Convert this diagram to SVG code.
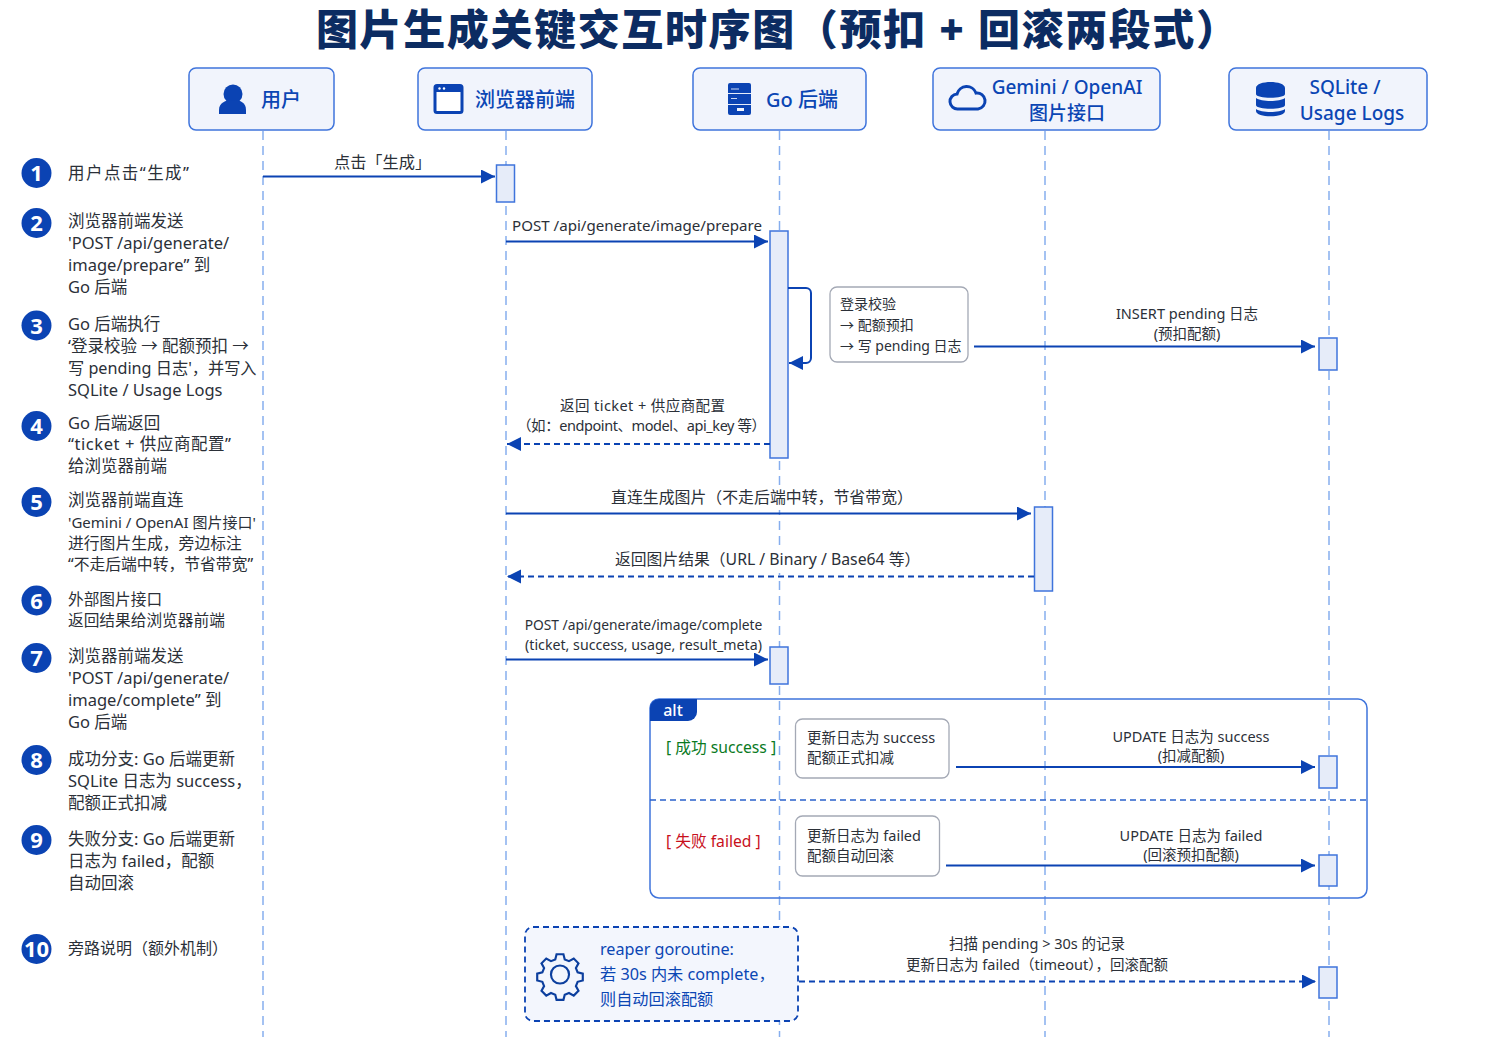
<svg xmlns="http://www.w3.org/2000/svg" width="1491" height="1055" viewBox="0 0 1491 1055">
<style>
text{font-family:"Noto Sans","Noto Sans CJK SC",sans-serif;fill:#2b3038;font-size:15.500px}
.title{font-size:42px;font-weight:900;fill:#0c2c62}
.hdr{fill:#f1f4fc;stroke:#3f74dc;stroke-width:1.500}
.hl{font-size:20px;fill:#0b46b4;font-weight:500;text-anchor:middle}
.hl2{font-size:19px}
.life{stroke:#86aeee;stroke-width:1.500;stroke-dasharray:9 6;fill:none}
.act{fill:#e6ecf9;stroke:#3f74dc;stroke-width:1.500}
.msg{stroke:#0b43b3;stroke-width:2;fill:none;marker-end:url(#ah)}
.dash{stroke-dasharray:6 4}
.c{text-anchor:middle}
.s{font-size:14.500px}
.step{font-size:16.500px}
.num{fill:#0b43b3}
.nt{fill:#fff;font-size:22px;font-weight:700;text-anchor:middle;font-family:"Noto Sans","Liberation Sans",sans-serif}
.note{fill:#fff;stroke:#a4a9b5;stroke-width:1.300}
.blue{fill:#0b46b4;font-size:16.200px}
.ic{fill:#0b43b3}
.ico{fill:none;stroke:#0b43b3;stroke-width:3}
</style>
<defs>
<marker id="ah" markerUnits="userSpaceOnUse" markerWidth="16" markerHeight="16" refX="14" refY="7" orient="auto"><path d="M0 0L14 7L0 14z" fill="#0b43b3"/></marker>
</defs>
<rect width="1491" height="1055" fill="#fff"/>
<text id="title" class="title" x="316" y="45" textLength="922">图片生成关键交互时序图（预扣 + 回滚两段式）</text>

<g id="lifelines">
<path class="life" d="M263 131V1037"/>
<path class="life" d="M506 131V1037"/>
<path class="life" d="M779.500 131V1037"/>
<path class="life" d="M1045 131V1037"/>
<path class="life" d="M1329 131V1037"/>
<rect x="760" y="486" width="40" height="24" fill="#fff"/>
<rect x="760" y="549" width="40" height="24" fill="#fff"/>
<rect x="1030" y="934" width="30" height="42" fill="#fff"/>
</g>

<g id="alt-frame">
<rect x="650" y="699" width="717" height="199" rx="9" fill="none" stroke="#3f74dc" stroke-width="1.500"/>
<path d="M650 708a9 9 0 0 1 9-9h38v13a9 9 0 0 1-9 9h-38z" fill="#0b43b3"/>
<text x="673" y="716" class="c" style="fill:#fff;font-size:16px;font-weight:500">alt</text>
<path d="M650 800H1367" stroke="#2a62cc" stroke-width="1.500" stroke-dasharray="6 4" fill="none"/>
<text x="666" y="753" style="fill:#0a7a1f;font-size:15.700px">[ 成功 success ]</text>
<text x="666" y="847" style="fill:#c8101c;font-size:15.700px">[ 失败 failed ]</text>
</g>

<g id="actor-user">
<rect class="hdr" x="189" y="68" width="145" height="62" rx="7"/>
<circle class="ic" cx="233" cy="94" r="9.500"/>
<path class="ic" d="M219 114v-4c0-7 6-10 14-10s13 3 13 10v4z"/>
<text class="hl" x="281" y="107">用户</text>
</g>
<g id="actor-browser">
<rect class="hdr" x="418" y="68" width="174" height="62" rx="7"/>
<rect x="435" y="85.500" width="27" height="27" rx="2" fill="#fff" stroke="#0b43b3" stroke-width="3"/>
<path class="ic" d="M435 86h27v6h-27z"/>
<circle cx="439.500" cy="88.500" r="1.200" fill="#fff"/><circle cx="444" cy="88.500" r="1.200" fill="#fff"/>
<text class="hl" x="525" y="107">浏览器前端</text>
</g>
<g id="actor-go">
<rect class="hdr" x="693" y="68" width="173" height="62" rx="7"/>
<rect class="ic" x="728" y="83" width="23" height="32" rx="2"/>
<path d="M728 93.500H751M728 104.500H751" stroke="#e6ecf9" stroke-width="1.200"/>
<path d="M731 89H739M731 98.500H737" stroke="#cdd9f3" stroke-width="1"/>
<rect x="737" y="108" width="7" height="3" fill="#f1f4fc"/>
<text class="hl" x="802" y="107">Go 后端</text>
</g>
<g id="actor-gemini">
<rect class="hdr" x="933" y="68" width="227" height="62" rx="7"/>
<path class="ico" d="M958 109a7.500 7.500 0 0 1-1-15a10 10 0 0 1 19-1a8 8 0 0 1 2 16z"/>
<text class="hl hl2" x="1067" y="94">Gemini / OpenAI</text>
<text class="hl hl2" x="1067" y="120">图片接口</text>
</g>
<g id="actor-sqlite">
<rect class="hdr" x="1229" y="68" width="198" height="62" rx="7"/>
<path class="ic" d="M1256 88c0-8 29-8 29 0v6c0 5-29 5-29 0zM1256 98c5 4 24 4 29 0v7c0 5-29 5-29 0zM1256 109c5 4 24 4 29 0v2c0 7-29 7-29 0z"/>
<text class="hl hl2" x="1345" y="94">SQLite /</text>
<text class="hl hl2" x="1352" y="120">Usage Logs</text>
</g>

<g id="activations">
<rect class="act" x="496.500" y="165" width="18" height="37"/>
<rect class="act" x="770" y="231" width="18" height="227"/>
<rect class="act" x="1319" y="338" width="18" height="32"/>
<rect class="act" x="1034.500" y="507" width="18" height="84"/>
<rect class="act" x="770" y="647" width="18" height="37"/>
<rect class="act" x="1319" y="756" width="18" height="32"/>
<rect class="act" x="1319" y="855" width="18" height="31"/>
<rect class="act" x="1319" y="967" width="18" height="31"/>
</g>

<g id="connectors">
<path class="msg" d="M263 176.500H495"/>
<path class="msg" d="M506 241.500H768"/>
<path class="msg" d="M788 288H806a5 5 0 0 1 5 5V358a5 5 0 0 1-5 5H789"/>
<path class="msg" d="M974 346.500H1315"/>
<path class="msg dash" d="M770 444H507"/>
<path class="msg" d="M506 513.500H1031"/>
<path class="msg dash" d="M1034 576.500H507"/>
<path class="msg" d="M506 659.500H768"/>
<path class="msg" d="M956 767H1315"/>
<path class="msg" d="M946 865.500H1315"/>
<path class="msg dash" d="M799 981.500H1316"/>
</g>

<g id="message-labels">
<text x="334" y="168" style="font-size:16.200px">点击「生成」</text>
<text class="c" x="637" y="231" style="font-size:15.100px">POST /api/generate/image/prepare</text>
<text class="c s" x="1187" y="319">INSERT pending 日志</text>
<text class="c s" x="1187" y="339">(预扣配额)</text>
<text class="s" x="560" y="411" textLength="165">返回 ticket + 供应商配置</text>
<text class="s" x="517" y="431" textLength="249">（如：endpoint、model、api_key 等）</text>
<text x="611" y="503" style="font-size:15.900px">直连生成图片（不走后端中转，节省带宽）</text>
<text x="615" y="565" style="font-size:15.800px">返回图片结果（URL / Binary / Base64 等）</text>
<text class="c" x="643.500" y="630" style="font-size:13.800px">POST /api/generate/image/complete</text>
<text class="c" x="643.500" y="650" style="font-size:14.200px">(ticket, success, usage, result_meta)</text>
<text class="c s" x="1191" y="742">UPDATE 日志为 success</text>
<text class="c s" x="1191" y="761">(扣减配额)</text>
<text class="c s" x="1191" y="841">UPDATE 日志为 failed</text>
<text class="c s" x="1191" y="860">(回滚预扣配额)</text>
<text class="c s" x="1037" y="949">扫描 pending &gt; 30s 的记录</text>
<text class="c s" x="1037" y="970">更新日志为 failed（timeout），回滚配额</text>
</g>

<g id="note-prepare">
<rect class="note" x="830" y="287" width="138" height="75" rx="7"/>
<text x="840" y="309" style="font-size:14px">登录校验</text>
<text x="840" y="330" style="font-size:14px">→ 配额预扣</text>
<text x="840" y="351" style="font-size:14px">→ 写 pending 日志</text>
</g>
<g id="note-success">
<rect class="note" x="795.500" y="719" width="153.500" height="59" rx="7"/>
<text class="s" x="807" y="743">更新日志为 success</text>
<text class="s" x="807" y="763">配额正式扣减</text>
</g>
<g id="note-failed">
<rect class="note" x="795.500" y="816" width="144" height="60" rx="7"/>
<text class="s" x="807" y="841">更新日志为 failed</text>
<text class="s" x="807" y="861">配额自动回滚</text>
</g>

<g id="reaper">
<rect x="525" y="927" width="273" height="94" rx="8" fill="#f3f6fd" stroke="#0b43b3" stroke-width="1.800" stroke-dasharray="6 4"/>
<g fill="none" stroke="#0c3f9e" stroke-width="2.500" transform="translate(560 974.500) scale(.86) translate(-560 -974.500)">
<circle cx="560" cy="974.500" r="10.500"/>
<path d="M556 951h8l1.500 6 5 2 5.500-3 5.500 5.500-3 5.500 2 5 6 1.500v8l-6 1.500-2 5 3 5.500-5.500 5.500-5.500-3-5 2-1.500 6h-8l-1.500-6-5-2-5.500 3-5.500-5.500 3-5.500-2-5-6-1.500v-8l6-1.500 2-5-3-5.500 5.500-5.500 5.500 3 5-2z"/>
</g>
<text class="blue" x="600" y="955">reaper goroutine:</text>
<text class="blue" x="600" y="980">若 30s 内未 complete，</text>
<text class="blue" x="600" y="1005">则自动回滚配额</text>
</g>

<g id="steps">
<g id="step-1"><circle class="num" cx="36.500" cy="173" r="15"/><text class="nt" x="36.500" y="181">1</text>
<text class="step" x="68" y="178.500" textLength="121">用户点击“生成”</text></g>
<g id="step-2"><circle class="num" cx="36.500" cy="223" r="15"/><text class="nt" x="36.500" y="231">2</text>
<text class="step" x="68" y="227">浏览器前端发送</text><text class="step" x="68" y="249">'POST /api/generate/</text><text class="step" x="68" y="271">image/prepare” 到</text><text class="step" x="68" y="293">Go 后端</text></g>
<g id="step-3"><circle class="num" cx="36.500" cy="325.500" r="15"/><text class="nt" x="36.500" y="333.500">3</text>
<text class="step" x="68" y="330">Go 后端执行</text><text class="step" x="68" y="352">‘登录校验 → 配额预扣 →</text><text x="68" y="374" style="font-size:16.200px">写 pending 日志'，并写入</text><text class="step" x="68" y="396">SQLite / Usage Logs</text></g>
<g id="step-4"><circle class="num" cx="36.500" cy="426" r="15"/><text class="nt" x="36.500" y="434">4</text>
<text class="step" x="68" y="428.500">Go 后端返回</text><text class="step" x="68" y="450" textLength="163">“ticket + 供应商配置”</text><text class="step" x="68" y="472">给浏览器前端</text></g>
<g id="step-5"><circle class="num" cx="36.500" cy="502" r="15"/><text class="nt" x="36.500" y="510">5</text>
<text class="step" x="68" y="506">浏览器前端直连</text><text x="68" y="528" style="font-size:15px">'Gemini / OpenAI 图片接口'</text><text x="68" y="549" style="font-size:15.800px">进行图片生成，旁边标注</text><text x="68" y="570" style="font-size:15.800px">“不走后端中转，节省带宽”</text></g>
<g id="step-6"><circle class="num" cx="36.500" cy="600.500" r="15"/><text class="nt" x="36.500" y="608.500">6</text>
<text x="68" y="605" style="font-size:15.700px">外部图片接口</text><text x="68" y="626" style="font-size:15.700px">返回结果给浏览器前端</text></g>
<g id="step-7"><circle class="num" cx="36.500" cy="658" r="15"/><text class="nt" x="36.500" y="666">7</text>
<text class="step" x="68" y="662">浏览器前端发送</text><text class="step" x="68" y="684">'POST /api/generate/</text><text class="step" x="68" y="706">image/complete” 到</text><text class="step" x="68" y="728">Go 后端</text></g>
<g id="step-8"><circle class="num" cx="36.500" cy="760" r="15"/><text class="nt" x="36.500" y="768">8</text>
<text class="step" x="68" y="765">成功分支: Go 后端更新</text><text class="step" x="68" y="787">SQLite 日志为 success，</text><text class="step" x="68" y="809">配额正式扣减</text></g>
<g id="step-9"><circle class="num" cx="36.500" cy="840" r="15"/><text class="nt" x="36.500" y="848">9</text>
<text class="step" x="68" y="845">失败分支: Go 后端更新</text><text class="step" x="68" y="867">日志为 failed，配额</text><text class="step" x="68" y="889">自动回滚</text></g>
<g id="step-10"><circle class="num" cx="36.500" cy="949" r="15"/><text class="nt" x="36.500" y="957">10</text>
<text x="68" y="954" style="font-size:16px">旁路说明（额外机制）</text></g>
</g>
</svg>
